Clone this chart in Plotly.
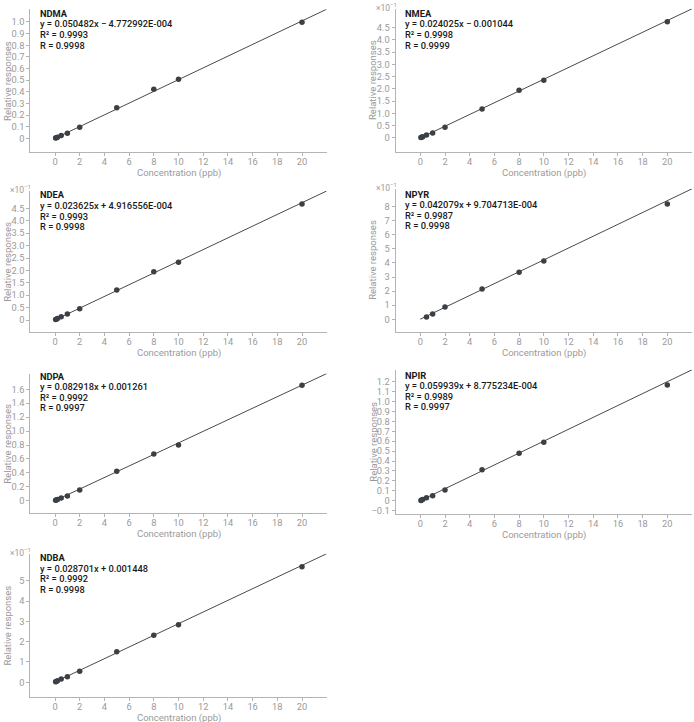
import plotly.graph_objects as go
from plotly.subplots import make_subplots

# ---------------- data ----------------
compounds = ["NDMA", "NMEA", "NDEA", "NPYR", "NDPA", "NPIR", "NDBA"]

conc_std = [0.05, 0.1, 0.2, 0.5, 1, 2, 5, 8, 10, 20]
conc_npyr = [0.5, 1, 2, 5, 8, 10, 20]

ndma_resp = [0.002, 0.005, 0.010, 0.025, 0.043, 0.095, 0.263, 0.421, 0.507, 0.997]
nmea_resp = [0.001, 0.002, 0.004, 0.011, 0.019, 0.0425, 0.117, 0.194, 0.235, 0.475]
ndea_resp = [0.002, 0.003, 0.006, 0.013, 0.024, 0.0457, 0.121, 0.195, 0.2325, 0.468]
npyr_resp = [0.016, 0.038, 0.087, 0.215, 0.334, 0.414, 0.819]
ndpa_resp = [0.005, 0.009, 0.017, 0.040, 0.068, 0.154, 0.422, 0.671, 0.800, 1.658]
npir_resp = [0.003, 0.007, 0.013, 0.030, 0.050, 0.108, 0.3125, 0.478, 0.589, 1.166]
ndba_resp = [0.003, 0.004, 0.007, 0.016, 0.0276, 0.054, 0.1506, 0.231, 0.2835, 0.569]

slopes = [0.050482, 0.024025, 0.023625, 0.042079, 0.082918, 0.059939, 0.028701]
intercepts = [-4.772992e-4, -0.001044, 4.916556e-4, 9.704713e-4, 0.001261, 8.775234e-4, 0.001448]

equations = [
    "y = 0.050482x − 4.772992E-004",
    "y = 0.024025x − 0.001044",
    "y = 0.023625x + 4.916556E-004",
    "y = 0.042079x + 9.704713E-004",
    "y = 0.082918x + 0.001261",
    "y = 0.059939x + 8.775234E-004",
    "y = 0.028701x + 0.001448",
]
r2_labels = ["R² = 0.9993", "R² = 0.9998", "R² = 0.9993", "R² = 0.9987",
             "R² = 0.9992", "R² = 0.9989", "R² = 0.9992"]
r_labels = ["R = 0.9998", "R = 0.9999", "R = 0.9998", "R = 0.9998",
            "R = 0.9997", "R = 0.9997", "R = 0.9998"]

x_ticks = [0, 2, 4, 6, 8, 10, 12, 14, 16, 18, 20]

y_tickvals = [
    [0, 0.1, 0.2, 0.3, 0.4, 0.5, 0.6, 0.7, 0.8, 0.9, 1.0],
    [0, 0.05, 0.10, 0.15, 0.20, 0.25, 0.30, 0.35, 0.40, 0.45],
    [0, 0.05, 0.10, 0.15, 0.20, 0.25, 0.30, 0.35, 0.40, 0.45],
    [0, 0.1, 0.2, 0.3, 0.4, 0.5, 0.6, 0.7, 0.8],
    [0, 0.2, 0.4, 0.6, 0.8, 1.0, 1.2, 1.4, 1.6],
    [-0.1, 0, 0.1, 0.2, 0.3, 0.4, 0.5, 0.6, 0.7, 0.8, 0.9, 1.0, 1.1, 1.2],
    [0, 0.1, 0.2, 0.3, 0.4, 0.5],
]
y_ticktext = [
    ["0", "0.1", "0.2", "0.3", "0.4", "0.5", "0.6", "0.7", "0.8", "0.9", "1.0"],
    ["0", "0.5", "1.0", "1.5", "2.0", "2.5", "3.0", "3.5", "4.0", "4.5"],
    ["0", "0.5", "1.0", "1.5", "2.0", "2.5", "3.0", "3.5", "4.0", "4.5"],
    ["0", "1", "2", "3", "4", "5", "6", "7", "8"],
    ["0", "0.2", "0.4", "0.6", "0.8", "1.0", "1.2", "1.4", "1.6"],
    ["−0.1", "0", "0.1", "0.2", "0.3", "0.4", "0.5", "0.6", "0.7", "0.8", "0.9", "1.0", "1.1", "1.2"],
    ["0", "1", "2", "3", "4", "5"],
]
scaled = [False, True, True, True, False, False, True]

conc_sets = [conc_std, conc_std, conc_std, conc_npyr, conc_std, conc_std, conc_std]
resp_sets = [ndma_resp, nmea_resp, ndea_resp, npyr_resp, ndpa_resp, npir_resp, ndba_resp]

# ---------------- layout geometry (pixels) ----------------
W, H = 694, 722
# (left px, right px, top px, bottom px, ymin, ymax)
geom = [
    (30.3, 326.7, 9.2, 152.0, -0.1178, 1.110),
    (395.6, 692.0, 8.8, 152.0, -0.0585, 0.5275),
    (30.3, 326.7, 191.0, 332.0, -0.0484, 0.5202),
    (395.6, 692.0, 188.8, 331.7, -0.088, 0.9267),
    (30.3, 326.7, 373.6, 513.3, -0.181, 1.8255),
    (395.6, 692.0, 369.8, 514.3, -0.137, 1.3195),
    (30.3, 326.7, 553.7, 696.7, -0.0709, 0.6329),
]
text_origin = [(39.3, 13.3), (404.3, 13.3), (39.3, 195.0), (404.3, 194.0),
               (39.3, 376.0), (404.3, 375.0), (39.3, 557.7)]
line_step = 10.6

FONT = "Roboto, 'Noto Sans', sans-serif"
TICK_COLOR = "#9a9a9a"
AXIS_COLOR = "#b4b4b4"
MARK_COLOR = "#3b4046"
LINE_COLOR = "#4a4a4a"
FS = 9

fig = make_subplots(rows=4, cols=2,
                    specs=[[{}, {}], [{}, {}], [{}, {}], [{}, None]])

positions = [(1, 1), (1, 2), (2, 1), (2, 2), (3, 1), (3, 2), (4, 1)]

annotations = []
for i, name in enumerate(compounds):
    r, c = positions[i]
    xs = conc_sets[i]
    ys = resp_sets[i]
    lx = [0, 22]
    ly = [slopes[i] * v + intercepts[i] for v in lx]
    fig.add_trace(go.Scatter(x=lx, y=ly, mode="lines",
                             line=dict(color=LINE_COLOR, width=1),
                             showlegend=False, hoverinfo="skip"), row=r, col=c)
    fig.add_trace(go.Scatter(x=xs, y=ys, mode="markers",
                             marker=dict(color=MARK_COLOR, size=5.5),
                             showlegend=False, name=name), row=r, col=c)

    lpx, rpx, tpx, bpx, ymin, ymax = geom[i]
    idx = "" if i == 0 else str(i + 1)
    fig.layout["xaxis" + idx].update(
        domain=[lpx / W, rpx / W], range=[-2, 22],
        tickvals=x_ticks, ticks="outside", ticklen=3, tickcolor=AXIS_COLOR,
        showline=True, linecolor=AXIS_COLOR, linewidth=1,
        showgrid=False, zeroline=False, automargin=False,
        ticklabelstandoff=-2,
        tickfont=dict(family=FONT, size=FS + 0.3, color=TICK_COLOR))
    fig.layout["yaxis" + idx].update(
        domain=[1 - bpx / H, 1 - tpx / H], range=[ymin, ymax],
        tickvals=y_tickvals[i], ticktext=y_ticktext[i],
        ticks="outside", ticklen=3, tickcolor=AXIS_COLOR,
        showline=True, linecolor=AXIS_COLOR, linewidth=1,
        showgrid=False, zeroline=False, automargin=False,
        ticklabelstandoff=0,
        tickfont=dict(family=FONT, size=FS + 0.3, color=TICK_COLOR))

    # text block
    tx, ty = text_origin[i]
    lines = [(name, 700), (equations[i], 500), (r2_labels[i], 500), (r_labels[i], 500)]
    for k, (txt, wt) in enumerate(lines):
        annotations.append(dict(
            x=tx / W, y=1 - (ty + k * line_step) / H, xref="paper", yref="paper",
            xanchor="left", yanchor="middle", showarrow=False, text=txt,
            font=dict(family=FONT, size=FS + 0.3, color="#1a1a1a", weight=wt),
            borderpad=0))

    # axis titles
    annotations.append(dict(
        x=(lpx - 23) / W, y=1 - ((tpx + bpx) / 2) / H, xref="paper", yref="paper",
        xanchor="center", yanchor="middle", showarrow=False, textangle=-90,
        text="Relative responses", borderpad=0,
        font=dict(family=FONT, size=FS + 0.5, color=TICK_COLOR)))
    annotations.append(dict(
        x=((lpx + rpx) / 2 + 0) / W, y=1 - (bpx + 21) / H, xref="paper", yref="paper",
        xanchor="center", yanchor="middle", showarrow=False,
        text="Concentration (ppb)", borderpad=0,
        font=dict(family=FONT, size=FS + 0.5, color=TICK_COLOR)))

    if scaled[i]:
        annotations.append(dict(
            x=(lpx - 21) / W, y=1 - (tpx - 2) / H, xref="paper", yref="paper",
            xanchor="left", yanchor="middle", showarrow=False,
            text="×10<sup>−1</sup>", borderpad=0,
            font=dict(family=FONT, size=8.5, color=TICK_COLOR)))

fig.update_layout(
    width=W, height=H,
    margin=dict(l=0, r=0, t=0, b=0),
    paper_bgcolor="white", plot_bgcolor="white",
    annotations=annotations,
    font=dict(family=FONT),
)

fig.write_html("out.html")
